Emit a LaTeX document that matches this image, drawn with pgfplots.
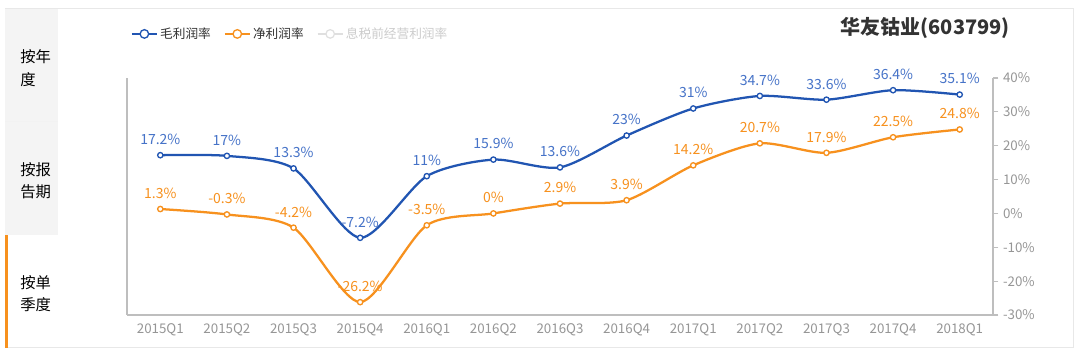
\documentclass[border=0pt]{standalone}
\usepackage{pgfplots}
\pgfplotsset{compat=1.18}
\usepackage{pgfplotstable}
\usepackage{fontspec}
\setmainfont{Noto Sans CJK SC}
\definecolor{gblue}{RGB}{33,85,178}
\definecolor{lblue}{RGB}{70,115,200}
\definecolor{gorange}{RGB}{247,145,30}
\definecolor{tickgray}{RGB}{150,150,150}
\definecolor{axgray}{RGB}{190,190,190}
\definecolor{tabgray}{RGB}{244,244,244}
\definecolor{titlegray}{RGB}{51,51,51}
\pgfplotstableread{
x g n
0 17.2 1.3
1 17 -0.3
2 13.3 -4.2
3 -7.2 -26.2
4 11 -3.5
5 15.9 0
6 13.6 2.9
7 23 3.9
8 31 14.2
9 34.7 20.7
10 33.6 17.9
11 36.4 22.5
12 35.1 24.8
}\datatable
\begin{document}
\begin{tikzpicture}
\begin{scope}[x=0.75pt,y=0.75pt]
% page bounds
\path[fill=white] (0,0) rectangle (1081,353);
% outer frame
\draw[gray!18, line width=0.75pt] (5,5) rectangle (1073,344);
% tabs
\fill[tabgray] (5,232) rectangle (58,344);
\fill[tabgray] (5,118) rectangle (58,232);
\draw[gray!10] (5,232) -- (58,232);
\fill[gorange] (5,5) rectangle (8,118);
\node[anchor=west, font=\fontsize{11.5pt}{13pt}\selectfont, inner sep=0] at (20,296) {按年};
\node[anchor=west, font=\fontsize{11.5pt}{13pt}\selectfont, inner sep=0] at (20,273) {度};
\node[anchor=west, font=\fontsize{11.5pt}{13pt}\selectfont, inner sep=0] at (20,183) {按报};
\node[anchor=west, font=\fontsize{11.5pt}{13pt}\selectfont, inner sep=0] at (20,161) {告期};
\node[anchor=west, font=\fontsize{11.5pt}{13pt}\selectfont, inner sep=0] at (20,70) {按单};
\node[anchor=west, font=\fontsize{11.5pt}{13pt}\selectfont, inner sep=0] at (20,48) {季度};
% title
\node[anchor=east, font=\fontsize{15pt}{17pt}\selectfont\bfseries, text=titlegray, inner sep=0] at (1010,325) {华友钴业(603799)};
\end{scope}
\begin{axis}[
  at={(95.25pt,28.5pt)}, anchor=south west,
  width=649.5pt, height=177.75pt, scale only axis,
  xmin=-0.5, xmax=12.5, ymin=-30, ymax=40,
  clip=false,
  axis x line*=bottom, axis y line*=right,
  axis line style={axgray, line width=0.8pt, -},
  xtick={0,...,12},
  xticklabels={2015Q1,2015Q2,2015Q3,2015Q4,2016Q1,2016Q2,2016Q3,2016Q4,2017Q1,2017Q2,2017Q3,2017Q4,2018Q1},
  minor xtick={-0.5,0.5,...,12.5},
  x tick style={draw=none},
  minor x tick style={axgray, line width=0.8pt},
  minor tick length=4pt,
  ytick={-30,-20,...,40},
  yticklabels={{-30\%},{-20\%},{-10\%},{0\%},{10\%},{20\%},{30\%},{40\%}},
  y tick style={axgray, line width=0.8pt},
  major tick length=4pt,
  tick align=outside,
  tick label style={text=tickgray, font=\fontsize{10pt}{11pt}\selectfont},
  xticklabel style={yshift=1pt},
  legend style={at={(axis description cs:0,1.186)}, anchor=west, draw=none, fill=none,
    legend columns=3, font=\fontsize{9.5pt}{11pt}\selectfont,
    /tikz/every even column/.append style={column sep=8pt}},
  legend image code/.code={\draw[#1, mark size=3.2pt, mark repeat=2, mark phase=2, line width=0.9pt] plot coordinates {(0cm,0cm) (0.33cm,0cm) (0.66cm,0cm)};},
  nodes near coords={\pgfplotspointmeta\%},
  point meta=explicit symbolic,
  every node near coord/.append style={font=\fontsize{10.5pt}{12pt}\selectfont, anchor=south, yshift=4pt},
]
\draw[axgray, line width=0.8pt] (rel axis cs:0,0) -- (rel axis cs:0,1);
\addplot[gblue, line width=1.7pt, smooth, tension=0.45, mark=*, mark size=2pt, mark options={fill=white, line width=1pt},
  nodes near coords style={text=lblue}]
  table[x=x, y=g, meta=g] {\datatable};
\addlegendentry{\textcolor{titlegray}{毛利润率}}
\addplot[gorange, line width=1.7pt, smooth, tension=0.45, mark=*, mark size=2pt, mark options={fill=white, line width=1pt},
  nodes near coords style={text=gorange}]
  table[x=x, y=n, meta=n] {\datatable};
\addlegendentry{\textcolor{titlegray}{净利润率}}
\addlegendimage{gray!25, mark=*, mark options={fill=white}}
\addlegendentry{\textcolor{gray!40}{息税前经营利润率}}
\end{axis}
\end{tikzpicture}
\end{document}
